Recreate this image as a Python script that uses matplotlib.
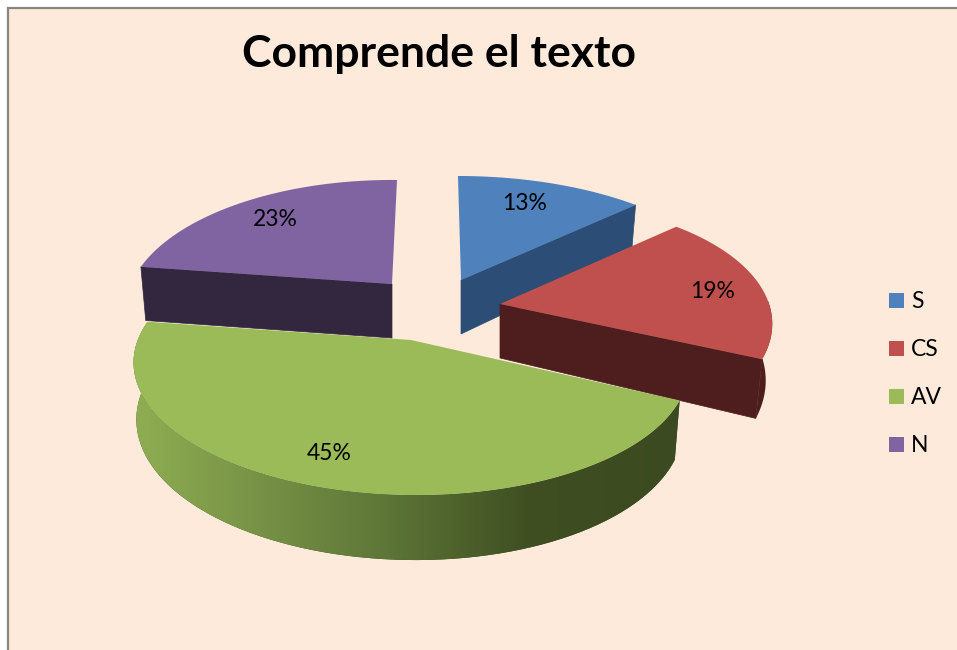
import numpy as np
import matplotlib
matplotlib.use('Agg')
import matplotlib.pyplot as plt
from matplotlib.colors import LinearSegmentedColormap
from matplotlib.patches import Polygon, Rectangle

labels = ['S', 'CS', 'AV', 'N']
values = [13, 19, 45, 23]
top_colors = ['#4F81BD', '#C0504D', '#9BBB59', '#8064A2']
side_colors = ['#2C4D75', '#4E1E1E', '#3B4A20', '#33273F']

# where each slice tip sits after the explode, in pixels
tip_x = [461, 500, 411, 392]
tip_y = [280, 304, 340, 284]
radius_x = [275, 268, 272, 260]
lean = [-3, 6, 0, 5]  # small sideways drift towards the back
tilt = [0, -3, 3, 2]  # small vertical drift from left to right

RY = 124.5
PERSP = 0.197
BG = '#FDEADA'

plt.rcParams['font.family'] = ['Lato', 'DejaVu Sans']

fig = plt.figure(figsize=(9.57, 6.5), dpi=100)
ax = fig.add_axes([0, 0, 1, 1])
ax.set_xlim(0, 957)
ax.set_ylim(650, 0)
ax.axis('off')

# chart area with grey line on the left and top
ax.add_patch(Rectangle((8, 8), 960, 660, fc=BG, ec='#868686', lw=1.6, zorder=0))


def project(i, theta):
    # theta is clockwise from the back of the pie, in radians
    u, v = np.sin(theta), np.cos(theta)
    w = 1 + PERSP * v
    x = tip_x[i] + radius_x[i] * u / w + lean[i] * v
    y = tip_y[i] - RY * v / w + tilt[i] * u
    return x, y


def drop(x, v, left_scale=0.982):
    # same point on the bottom of the pie
    return 410 + (x - 410) * np.where(x < 410, left_scale, 0.982), 55 - 10 * v


ends = np.cumsum(values) / sum(values) * 2 * np.pi
starts = ends - np.array(values) / sum(values) * 2 * np.pi


def wall(i, theta, z):
    # flat cut face from the tip out to the rim
    x, y = project(i, theta)
    bx, d = drop(x, np.cos(theta))
    pts = [(tip_x[i], tip_y[i]), (x, y), (bx, y + d), (tip_x[i], tip_y[i] + 54)]
    ax.add_patch(Polygon(pts, fc=side_colors[i], ec=side_colors[i], lw=0.5, zorder=z))


def rim(i, t0, t1, z, left_scale=0.982):
    th = np.linspace(t0, t1, 80)
    x, y = project(i, th)
    bx, d = drop(x, np.cos(th), left_scale)
    pts = np.vstack([np.c_[x, y], np.c_[bx, y + d][::-1]])
    patch = Polygon(pts, fc=side_colors[i], ec='none', zorder=z)
    ax.add_patch(patch)
    return patch


def top(i, z):
    th = np.linspace(starts[i], ends[i], 120)
    x, y = project(i, th)
    pts = np.vstack([[tip_x[i], tip_y[i]], np.c_[x, y]])
    ax.add_patch(Polygon(pts, fc=top_colors[i], ec='none', zorder=z))


# back slices first, then the red one, then green in front
wall(3, starts[3], 2)
top(3, 3)

wall(0, ends[0], 2)
top(0, 3)

wall(1, ends[1], 5)
rim(1, np.pi / 2, ends[1], 5)
top(1, 6)

# green rim has a left to right shading
green_rim = rim(2, starts[2], ends[2], 7, left_scale=0.99)
cmap = LinearSegmentedColormap.from_list(
    'rim', [(0, '#8FAE52'), (0.18, '#7C9849'), (0.45, '#5F7738'),
            (0.72, '#3F4F22'), (1, '#3B4A20')])
img = ax.imshow(np.linspace(0, 1, 256)[None, :], cmap=cmap, aspect='auto',
                extent=(133, 682, 650, 0), zorder=7)
img.set_clip_path(green_rim)
ax.set_xlim(0, 957)
ax.set_ylim(650, 0)
top(2, 8)

# percentage labels
label_x = [525, 713, 329, 275]
label_y = [204, 292, 453, 219]
for i, val in enumerate(values):
    ax.text(label_x[i], label_y[i], f'{val}%', fontsize=16.5, color='black',
            ha='center', va='center', zorder=10)

# legend
legend_y = [300, 348, 396, 444]
for i, name in enumerate(labels):
    ax.add_patch(Rectangle((889, legend_y[i] - 7.5), 15, 15, fc=top_colors[i], ec='none', zorder=10))
    ax.text(911, legend_y[i] + 1, name, fontsize=16.5, color='black', ha='left',
            va='center', zorder=10)

ax.text(439.5, 67, 'Comprende el texto', fontsize=32, fontweight='bold',
        color='black', ha='center', va='baseline', zorder=10)

fig.savefig('out.png', dpi=100)
